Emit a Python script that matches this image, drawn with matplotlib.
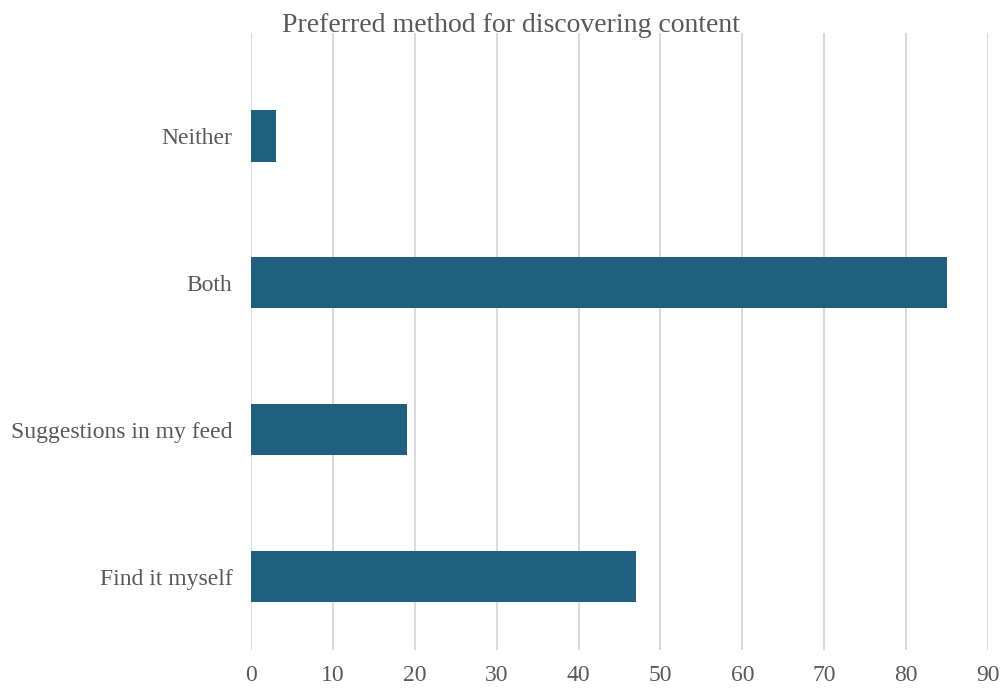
import matplotlib
matplotlib.use("Agg")
import matplotlib.pyplot as plt

categories = ["Find it myself", "Suggestions in my feed", "Both", "Neither"]
counts = [47, 19, 85, 3]
xticks = [0, 10, 20, 30, 40, 50, 60, 70, 80, 90]

text_color = "#595959"
bar_color = "#1f5f80"

plt.rcParams["font.family"] = ["Liberation Serif", "DejaVu Serif"]

fig = plt.figure(figsize=(10.07, 6.91), dpi=100)
ax = fig.add_axes([0.2493, 0.0593, 0.9811 - 0.2493, 0.9522 - 0.0593])

ypos = list(range(len(categories)))
ax.barh(ypos, counts, height=0.35, color=bar_color, zorder=3)

ax.set_xlim(0, 90)
ax.set_ylim(-0.5, 3.7)
ax.set_xticks(xticks)
ax.set_xticklabels([str(t) for t in xticks])
ax.set_yticks(ypos)
ax.set_yticklabels(categories)

ax.grid(axis="x", color="#d9d9d9", linewidth=1.4, zorder=0)
for s in ax.spines.values():
    s.set_visible(False)
ax.tick_params(axis="both", length=0, colors=text_color, labelsize=17)
ax.tick_params(axis="x", pad=11)
ax.tick_params(axis="y", pad=13.5)

fig.text(0.507, 0.963, "Preferred method for discovering content",
         ha="center", va="center", color=text_color, fontsize=20)

fig.savefig("out.png", dpi=100)
